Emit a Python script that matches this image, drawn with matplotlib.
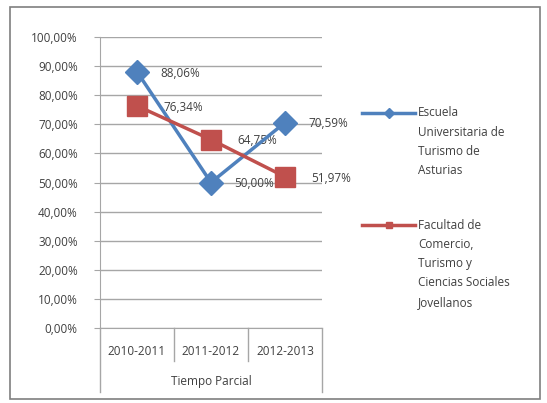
import matplotlib
matplotlib.use("Agg")
import matplotlib.pyplot as plt
from matplotlib.patches import Rectangle
from matplotlib.lines import Line2D
import matplotlib.transforms as mtransforms

categories = ["2010-2011", "2011-2012", "2012-2013"]
group_label = "Tiempo Parcial"
series_names = ["Escuela\nUniversitaria de\nTurismo de\nAsturias",
                "Facultad de\nComercio,\nTurismo y\nCiencias Sociales\nJovellanos"]
escuela = [88.06, 50.00, 70.59]
facultad = [76.34, 64.75, 51.97]
yticks = [0, 10, 20, 30, 40, 50, 60, 70, 80, 90, 100]

blue = "#4F81BD"
red = "#C0504D"
grid = "#A6A6A6"
txt = "#404040"
plt.rcParams['font.family'] = ['Open Sans', 'DejaVu Sans']
fs = 8.5


def pct(v):
    return f"{v:.2f}".replace(".", ",") + "%"


W, H = 547, 403
fig = plt.figure(figsize=(W/100, H/100), dpi=100)
fig.patches.append(Rectangle((10/W, 1-399/H), 530/W, 392/H, transform=fig.transFigure,
                             fill=False, edgecolor="#7F7F7F", linewidth=1.2))

ax = fig.add_axes([100/W, 1-328/H, 222/W, 291/H])
x = list(range(len(categories)))
ax.set_xlim(-0.5, len(categories)-0.5)
ax.set_ylim(0, 100)
ax.set_yticks(yticks)
ax.set_yticklabels([pct(v) for v in yticks], fontsize=fs, color=txt)
ax.yaxis.grid(True, color=grid, linewidth=1)
ax.set_axisbelow(True)
for s in ["top", "right"]:
    ax.spines[s].set_visible(False)
ax.spines["left"].set_color(grid)
ax.spines["bottom"].set_color(grid)
ax.tick_params(axis="y", length=4, color=grid, pad=12)
ax.set_xticks(x)
ax.set_xticklabels(categories, fontsize=fs, color=txt)
ax.tick_params(axis="x", length=0, pad=12)

ax.plot(x, escuela, color=blue, linewidth=2.5, marker="D", markersize=12, zorder=3)
ax.plot(x, facultad, color=red, linewidth=2.5, marker="s", markersize=14, zorder=4)

for i, v in enumerate(escuela):
    ax.annotate(pct(v), (x[i], v), xytext=(17, -1),
                textcoords="offset points", fontsize=fs, color=txt, va="center", ha="left", zorder=2)
for i, v in enumerate(facultad):
    ax.annotate(pct(v), (x[i], v), xytext=(19, -1),
                textcoords="offset points", fontsize=fs, color=txt, va="center", ha="left", zorder=2)

trans = mtransforms.blended_transform_factory(ax.transData, ax.transAxes)
ybot_short = -(361-328)/291
ybot_long = -(392-328)/291
for xs in [-0.5, 0.5, 1.5, 2.5]:
    yb = ybot_long if xs in (-0.5, 2.5) else ybot_short
    ax.add_line(Line2D([xs, xs], [0, yb], transform=trans, color=grid, linewidth=1, clip_on=False))
ax.text(1, -(382-328)/291, group_label, transform=trans, ha="center", va="center", fontsize=fs, color=txt)

# legend
legend_specs = [(blue, "D", 113, series_names[0]), (red, "s", 225, series_names[1])]
for color, mk, ypx, name in legend_specs:
    fig.add_artist(Line2D([362/W, 388.5/W, 415/W], [1-ypx/H]*3, transform=fig.transFigure, color=color,
                          linewidth=2.5, marker=mk, markersize=5, markevery=[1]))
    for j, line in enumerate(name.split("\n")):
        fig.text(418/W, 1-(ypx + 19.3*j)/H, line, fontsize=fs, color=txt, va="center", ha="left")

fig.savefig("out.png", dpi=100)
